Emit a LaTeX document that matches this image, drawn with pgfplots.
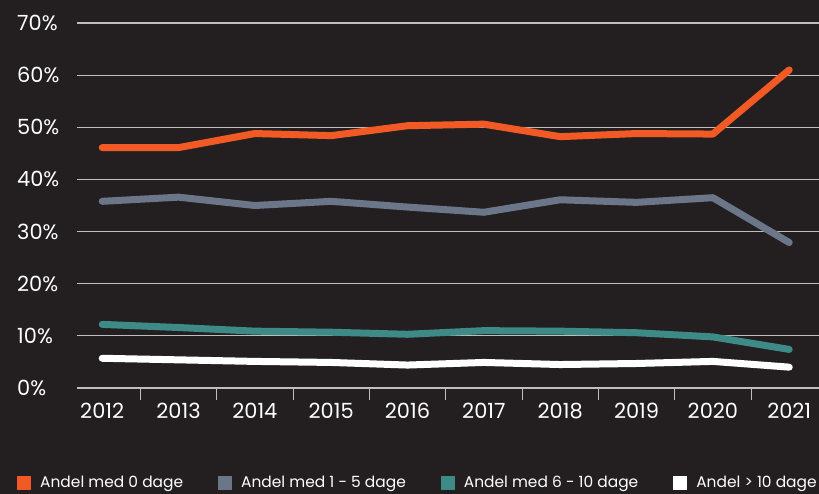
\documentclass[border=0pt]{standalone}
\usepackage{pgfplots}
\pgfplotsset{compat=1.18}
\usepackage{fontspec}
\setmainfont{Poppins}
\definecolor{bg}{HTML}{231F20}
\definecolor{cOrange}{HTML}{F15A24}
\definecolor{cGrey}{HTML}{6B7689}
\definecolor{cTeal}{HTML}{3D8A86}
\definecolor{cGrid}{HTML}{BEBEBE}

\begin{document}
\begin{tikzpicture}
\fill[bg] (0,0) rectangle (819bp,494bp);
\path[use as bounding box] (0,0) rectangle (819bp,494bp);
\begin{axis}[
    at={(77bp,106bp)}, anchor=south west,
    scale only axis, width=742bp, height=365bp,
    xmin=-0.33, xmax=9.39, ymin=0, ymax=70,
    axis line style={draw=none},
    ymajorgrids, grid style={cGrid, line width=1.2bp},
    xtick={0,...,9},
    xticklabels={2012,2013,2014,2015,2016,2017,2018,2019,2020,2021},
    ytick={0,10,...,70},
    yticklabels={0\%,10\%,20\%,30\%,40\%,50\%,60\%,70\%},
    xtick pos=bottom, ytick pos=left,
    minor xtick={0.5,1.5,...,8.5},
    major tick length=0pt, minor tick length=12bp,
    tick align=outside,
    minor tick style={cGrid, line width=1bp},
    tick label style={text=white, font=\fontsize{21}{25}\selectfont},
    xticklabel style={yshift=-12bp},
    yticklabel style={anchor=west, inner sep=0pt, xshift=-60bp},
    legend columns=4,
    legend style={at={(0,0)}, anchor=west, xshift=-60bp, yshift=-95bp,
        draw=none, fill=none, inner sep=0pt, text=white,
        font=\fontsize{15.5}{19}\selectfont,
        nodes={inner sep=0pt},
        /tikz/every even column/.append style={column sep=35bp}},
    legend image code/.code={\fill[#1, draw=none] (0bp,-7bp) rectangle (14bp,7bp); \path[draw=none] (0bp,0bp) -- (23bp,0bp);},
    every axis plot/.append style={line width=7bp, line cap=round, line join=round},
]
\addplot[cOrange] coordinates {(0,46.1) (1,46.1) (2,48.8) (3,48.4) (4,50.3) (5,50.6) (6,48.2) (7,48.8) (8,48.7) (9,61.0)};
\addlegendentry{Andel med 0 dage}
\addplot[cGrey] coordinates {(0,35.8) (1,36.6) (2,35.0) (3,35.8) (4,34.7) (5,33.7) (6,36.1) (7,35.6) (8,36.5) (9,27.9)};
\addlegendentry{Andel med 1 - 5 dage}
\addplot[cTeal] coordinates {(0,12.2) (1,11.6) (2,10.9) (3,10.7) (4,10.3) (5,11.0) (6,10.9) (7,10.6) (8,9.8) (9,7.4)};
\addlegendentry{Andel med 6 - 10 dage}
\addplot[white] coordinates {(0,5.7) (1,5.4) (2,5.1) (3,4.9) (4,4.4) (5,4.9) (6,4.5) (7,4.7) (8,5.1) (9,4.0)};
\addlegendentry{Andel > 10 dage}
\end{axis}
\end{tikzpicture}
\end{document}
